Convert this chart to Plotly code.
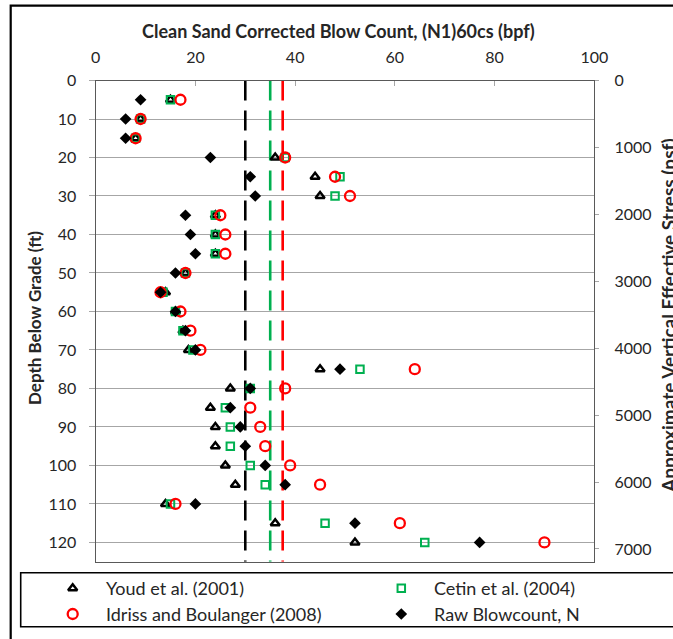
import plotly.graph_objects as go

# ---- data -----------------------------------------------------------------
depth_ft = [5, 10, 15, 20, 25, 30, 35, 40, 45, 50, 55, 60,
            65, 70, 75, 80, 85, 90, 95, 100, 105, 110, 115, 120]
youd_2001 = [15, 9, 8, 36, 44, 45, 24, 24, 24, 18, 14, 16,
             17.5, 18.6, 45, 27, 23, 24, 24, 26, 28, 14, 36, 52]
cetin_2004 = [15, 9, 8, 38, 49, 48, 24, 24, 24, 18, 13.5, 16,
              17.5, 19.5, 53, 31, 26, 27, 27, 31, 34, 15, 46, 66]
idriss_2008 = [17, 9, 8, 38, 48, 51, 25, 26, 26, 18, 13, 17,
               19, 21, 64, 38, 31, 33, 34, 39, 45, 16, 61, 90]
raw_n = [9, 6, 6, 23, 31, 32, 18, 19, 20, 16, 13, 16,
         18, 20, 49, 31, 27, 29, 30, 34, 38, 20, 52, 77]

# reference blow-count levels (black, green, red)
ref_levels = [30, 35, 37.5]
ref_colors = ["#000000", "#00B050", "#FF0000"]

x_ticks = [0, 20, 40, 60, 80, 100]
depth_ticks = list(range(0, 121, 10))
stress_ticks = list(range(0, 7001, 1000))

series_names = ["Youd et al. (2001)", "Cetin et al. (2004)",
                "Idriss and Boulanger (2008)", "Raw Blowcount, N"]

# ---- geometry -------------------------------------------------------------
W, H = 673, 639
PL, PR, PT, PB = 95.7, 594.3, 80.5, 561.7
LEG_TOP, LEG_BOT = 572.7, 626.7
DEPTH_MAX = 125
STRESS_MAX = 7190
FONT = "Lato"
TXT = "#262626"

styles = {
    "Youd et al. (2001)": dict(symbol="triangle-up-open", size=8, color="#000000", line=dict(width=2.5, color="#000000")),
    "Cetin et al. (2004)": dict(symbol="square-open", size=7.5, color="#00B050", line=dict(width=2, color="#00B050")),
    "Idriss and Boulanger (2008)": dict(symbol="circle-open", size=10, color="#FF0000", line=dict(width=2.3, color="#FF0000")),
    "Raw Blowcount, N": dict(symbol="diamond", size=9, color="#000000", line=dict(width=0)),
}
values = {
    "Youd et al. (2001)": youd_2001,
    "Cetin et al. (2004)": cetin_2004,
    "Idriss and Boulanger (2008)": idriss_2008,
    "Raw Blowcount, N": raw_n,
}


def px_x(p):
    return p / W


def px_y(p):
    return 1 - p / H


fig = go.Figure()

# dashed reference lines spanning the full depth
for lvl, col in zip(ref_levels, ref_colors):
    fig.add_trace(go.Scatter(
        x=[lvl, lvl], y=[0, DEPTH_MAX], mode="lines",
        line=dict(color=col, width=2.6, dash="20px,10px"),
        showlegend=False, hoverinfo="skip", xaxis="x", yaxis="y"))

for name in series_names:
    fig.add_trace(go.Scatter(
        x=values[name], y=depth_ft, mode="markers", name=name,
        marker=styles[name], showlegend=False, xaxis="x", yaxis="y"))

# invisible carrier so the stress axis on the right is rendered
fig.add_trace(go.Scatter(
    x=[0] * len(stress_ticks), y=stress_ticks, mode="markers",
    marker=dict(opacity=0), showlegend=False, hoverinfo="skip",
    xaxis="x", yaxis="y2"))

# legend drawn on its own pixel-scaled axes inside the legend box
leg_sym_x = [72.7, 401.3]
leg_txt_x = [104.3, 432.3]
leg_row_y = [588.3, 614.0]
leg_slots = [(0, 0), (1, 0), (0, 1), (1, 1)]
for name, (c, r) in zip(series_names, leg_slots):
    fig.add_trace(go.Scatter(
        x=[leg_sym_x[c]], y=[leg_row_y[r]], mode="markers",
        marker=styles[name], showlegend=False, hoverinfo="skip",
        xaxis="x3", yaxis="y3"))
    fig.add_annotation(
        x=leg_txt_x[c], y=leg_row_y[r], xref="x3", yref="y3",
        text=name, showarrow=False, xanchor="left", yanchor="middle",
        font=dict(family=FONT, size=18, color=TXT))

frame = "#595959"
grid = "#A6A6A6"

fig.update_layout(
    width=W, height=H,
    margin=dict(l=0, r=0, t=0, b=0, autoexpand=False),
    paper_bgcolor="white", plot_bgcolor="rgba(0,0,0,0)",
    font=dict(family=FONT, color=TXT),
    xaxis=dict(
        domain=[px_x(PL), px_x(PR)], range=[0, 100], side="top",
        tickvals=x_ticks, ticks="inside", ticklen=5, tickcolor="#A6A6A6",
        showgrid=False, zeroline=False, showline=True, mirror=True,
        linecolor=frame, linewidth=1.3, ticklabelstandoff=10,
        tickfont=dict(family=FONT, size=16, color=TXT)),
    yaxis=dict(
        domain=[px_y(PB), px_y(PT)], range=[DEPTH_MAX, 0],
        tickvals=depth_ticks, ticks="outside", ticklen=6, tickcolor=grid,
        showgrid=True, gridcolor=grid, gridwidth=1.2, zeroline=False,
        showline=True, mirror=True, linecolor=frame, linewidth=1.3,
        ticklabelstandoff=9, tickfont=dict(family=FONT, size=16, color=TXT)),
    yaxis2=dict(
        overlaying="y", side="right", range=[STRESS_MAX, 0], anchor="x",
        tickvals=stress_ticks, ticks="outside", ticklen=4, tickcolor=grid,
        showgrid=False, zeroline=False, showline=False,
        ticklabelstandoff=12, tickfont=dict(family=FONT, size=16, color=TXT)),
    xaxis3=dict(domain=[px_x(20.7), 1], range=[20.7, W], visible=False, fixedrange=True),
    yaxis3=dict(domain=[px_y(LEG_BOT), px_y(LEG_TOP)], range=[LEG_BOT, LEG_TOP],
                visible=False, fixedrange=True),
    showlegend=False,
)

# axis titles
fig.add_annotation(x=px_x(338), y=px_y(31), xref="paper", yref="paper",
                   text="<b>Clean Sand Corrected Blow Count, (N1)60cs (bpf)</b>",
                   showarrow=False, xanchor="center", yanchor="middle",
                   font=dict(family=FONT, size=18, color=TXT))
fig.add_annotation(x=px_x(34), y=px_y(318), xref="paper", yref="paper",
                   text="<b>Depth Below Grade (ft)</b>", textangle=-90,
                   showarrow=False, xanchor="center", yanchor="middle",
                   font=dict(family=FONT, size=17, color=TXT))
fig.add_annotation(x=px_x(668), y=px_y(316), xref="paper", yref="paper",
                   text="<b>Approximate Vertical Effective Stress (psf)</b>", textangle=-90,
                   showarrow=False, xanchor="center", yanchor="middle",
                   font=dict(family=FONT, size=19, color=TXT))

# chart border and legend box (right/bottom edges run off the page)
fig.add_shape(type="rect", xref="paper", yref="paper",
              x0=px_x(10.7), x1=px_x(W + 10), y0=px_y(H + 10), y1=px_y(5.7),
              line=dict(color="#000000", width=2.2), layer="above")
fig.add_shape(type="rect", xref="paper", yref="paper",
              x0=px_x(20.7), x1=px_x(W + 10), y0=px_y(LEG_BOT), y1=px_y(LEG_TOP),
              line=dict(color="#000000", width=1.6), layer="above")

fig.write_html("out.html")
